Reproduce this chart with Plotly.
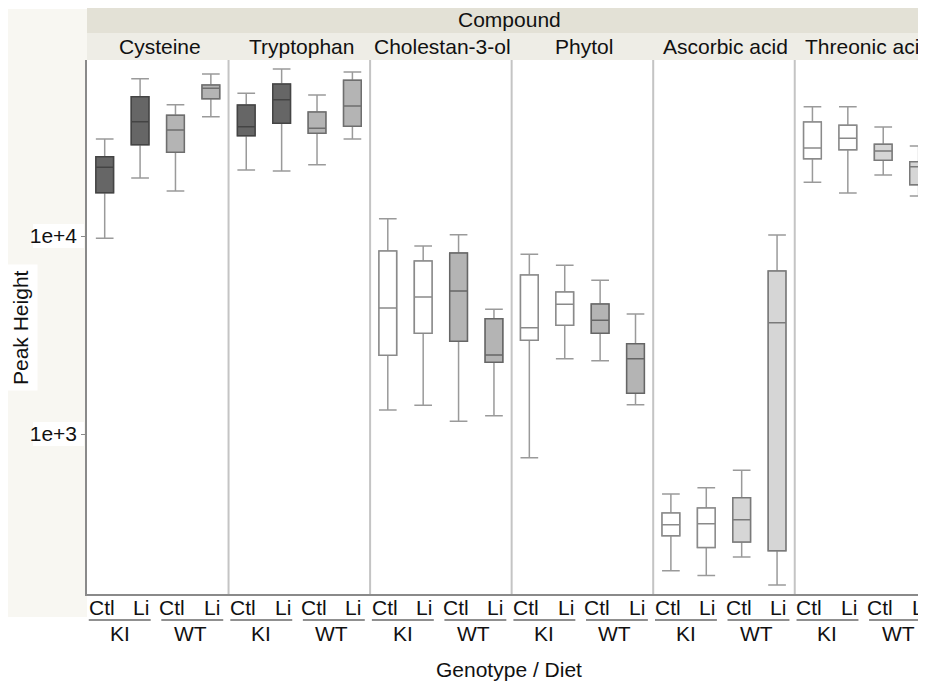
import plotly.graph_objects as go

# ---------------- data ----------------
compounds = ["Cysteine", "Tryptophan", "Cholestan-3-ol", "Phytol", "Ascorbic acid", "Threonic acid"]
genotypes = ["KI", "KI", "WT", "WT"]
diets = ["Ctl", "Li", "Ctl", "Li"]

# per compound: [KI Ctl, KI Li, WT Ctl, WT Li]
lower_whisker = [
    [9740, 19630, 16880, 40050],
    [21540, 21290, 22920, 30900],
    [1322, 1396, 1159, 1237],
    [759, 2400, 2346, 1406],
    [204, 193, 239, 173],
    [18670, 16490, 20330, 15920],
]
q1 = [
    [16550, 28920, 26470, 49370],
    [32110, 37090, 33020, 35810],
    [2497, 3226, 2938, 2302],
    [2973, 3540, 3226, 1606],
    [306, 267, 285, 257],
    [24570, 27290, 24120, 18160],
]
median = [
    [22230, 37790, 34300, 55700],
    [35650, 48800, 34990, 45350],
    [4330, 4918, 5275, 2506],
    [3442, 4519, 3752, 2400],
    [348, 352, 369, 3648],
    [27830, 31140, 26880, 22390],
]
q3 = [
    [25150, 50520, 40700, 57880],
    [45880, 58560, 42290, 61140],
    [8400, 7475, 8205, 3823],
    [6354, 5215, 4535, 2858],
    [399, 423, 477, 6656],
    [37650, 36230, 29050, 23730],
]
upper_whisker = [
    [30900, 62300, 46040, 65800],
    [52560, 69700, 51530, 67330],
    [12230, 8900, 10150, 4263],
    [8084, 7112, 5973, 4036],
    [498, 536, 656, 10120],
    [44980, 44980, 35520, 28480],
]
y_tick_values = [1000, 10000]
y_tick_labels = ["1e+3", "1e+4"]

# ---------------- styling ----------------
FONT = "Liberation Sans, Arial, sans-serif"
FS = 21
TXT = "#111111"
WHISKER = "#9a9a9a"
fill_ki = ["#666666", "#666666", "#ffffff", "#ffffff", "#ffffff", "#ffffff"]
fill_wt = ["#b4b4b4", "#b4b4b4", "#b4b4b4", "#b4b4b4", "#d6d6d6", "#d6d6d6"]
line_ki = ["#444444", "#444444", "#8a8a8a", "#8a8a8a", "#8a8a8a", "#8a8a8a"]
line_wt = ["#6e6e6e", "#6e6e6e", "#666666", "#666666", "#7a7a7a", "#7a7a7a"]

# page has an 8px body margin; figure kept inside the window
OFF = 8
W, H = 926 - OFF, 689 - 2 * OFF
L, R, T, B = 87 - OFF, 0, 60 - OFF, (H - (594 - OFF))
plot_w = W - L - R
plot_h = H - T - B
unit_px = 141.55 / 4.0
x_range = [0, plot_w / unit_px]


def fy(ypx):  # reference-picture y pixel -> paper
    return (594 - ypx) / plot_h


def fx(xpx):  # reference-picture x pixel -> paper
    return (xpx - 87) / plot_w


fig = go.Figure()

for k, comp in enumerate(compounds):
    for i in range(4):
        xpos = 4 * k + i + 0.5
        is_ki = genotypes[i] == "KI"
        fill = fill_ki[k] if is_ki else fill_wt[k]
        outline = line_ki[k] if is_ki else line_wt[k]
        # whiskers (light grey)
        fig.add_trace(go.Box(
            x=[xpos],
            q1=[q1[k][i]], median=[median[k][i]], q3=[q3[k][i]],
            lowerfence=[lower_whisker[k][i]], upperfence=[upper_whisker[k][i]],
            width=0.5, whiskerwidth=1, fillcolor=fill,
            line=dict(color=WHISKER, width=1.5),
            boxpoints=False, showlegend=False, hoverinfo="skip",
            name=f"{comp} {genotypes[i]} {diets[i]}",
        ))
        # box body with darker outline
        fig.add_trace(go.Box(
            x=[xpos],
            q1=[q1[k][i]], median=[median[k][i]], q3=[q3[k][i]],
            lowerfence=[q1[k][i]], upperfence=[q3[k][i]],
            width=0.5, whiskerwidth=0, fillcolor=fill,
            line=dict(color=outline, width=1.5),
            boxpoints=False, showlegend=False, hoverinfo="skip",
            name=f"{comp} {genotypes[i]} {diets[i]} box",
        ))

shapes = []
annotations = []


def txt(text, x, y, xref="paper", **kw):
    d = dict(text=text, xref=xref, yref="paper", x=x, y=y, showarrow=False,
             xanchor="center", yanchor="middle",
             font=dict(size=FS, color=TXT, family=FONT))
    d.update(kw)
    annotations.append(d)


# left off-white area
shapes.append(dict(type="rect", xref="paper", yref="paper", layer="below",
                   x0=fx(8), x1=0, y0=fy(617), y1=fy(9),
                   fillcolor="#f8f7f2", line=dict(width=0)))
# white behind y tick labels
for ypx in [236, 434]:
    shapes.append(dict(type="rect", xref="paper", yref="paper", layer="below",
                       x0=fx(33), x1=fx(84), y0=fy(ypx + 12), y1=fy(ypx - 12),
                       fillcolor="#ffffff", line=dict(width=0)))
# strips
shapes.append(dict(type="rect", xref="paper", yref="paper",
                   x0=0, x1=1, y0=fy(33), y1=fy(6),
                   fillcolor="#e3e1d6", line=dict(width=0)))
shapes.append(dict(type="rect", xref="paper", yref="paper",
                   x0=0, x1=1, y0=fy(60), y1=fy(33),
                   fillcolor="#eeede6", line=dict(width=0)))
txt("Compound", fx(509), fy(19.5))

for k, comp in enumerate(compounds):
    txt(comp, 4 * k + 2, fy(46.5), xref="x", xshift=2)
    if k > 0:
        shapes.append(dict(type="line", xref="x", yref="paper",
                           x0=4 * k, x1=4 * k, y0=0, y1=1,
                           line=dict(color="#c4c4c4", width=2)))
    for i in range(4):
        txt(diets[i], 4 * k + i + 0.5, fy(607), xref="x",
            xshift=(-3 if diets[i] == "Ctl" else 1))
    for g, (a, b) in enumerate([(0.05, 1.8), (2.1, 3.85)]):
        shapes.append(dict(type="line", xref="x", yref="paper",
                           x0=4 * k + a, x1=4 * k + b, y0=fy(620), y1=fy(620),
                           line=dict(color="#222222", width=1.2)))
        txt(genotypes[2 * g], 4 * k + 2 * g + 0.92, fy(633), xref="x")

txt("Genotype / Diet", fx(509), fy(669))
txt("Peak Height", fx(20), fy(328), textangle=-90, bgcolor="#ffffff", borderpad=5)

fig.update_layout(
    width=W, height=H,
    margin=dict(l=L, r=R, t=T, b=B, pad=0),
    paper_bgcolor="#ffffff", plot_bgcolor="#ffffff",
    font=dict(family=FONT, size=FS, color=TXT),
    shapes=shapes, annotations=annotations,
    xaxis=dict(range=x_range, showticklabels=False,
               showgrid=False, zeroline=False, showline=True, linecolor="#8a8a8a",
               linewidth=1.5, ticks=""),
    yaxis=dict(type="log", range=[2.192, 4.889], tickmode="array",
               tickvals=y_tick_values, ticktext=y_tick_labels,
               showgrid=False, zeroline=False, showline=True, linecolor="#8a8a8a",
               linewidth=1.5, ticks="outside", ticklen=4, tickcolor="#8a8a8a",
               tickfont=dict(size=FS, family=FONT, color=TXT)),
)

fig.write_html("out.html")
